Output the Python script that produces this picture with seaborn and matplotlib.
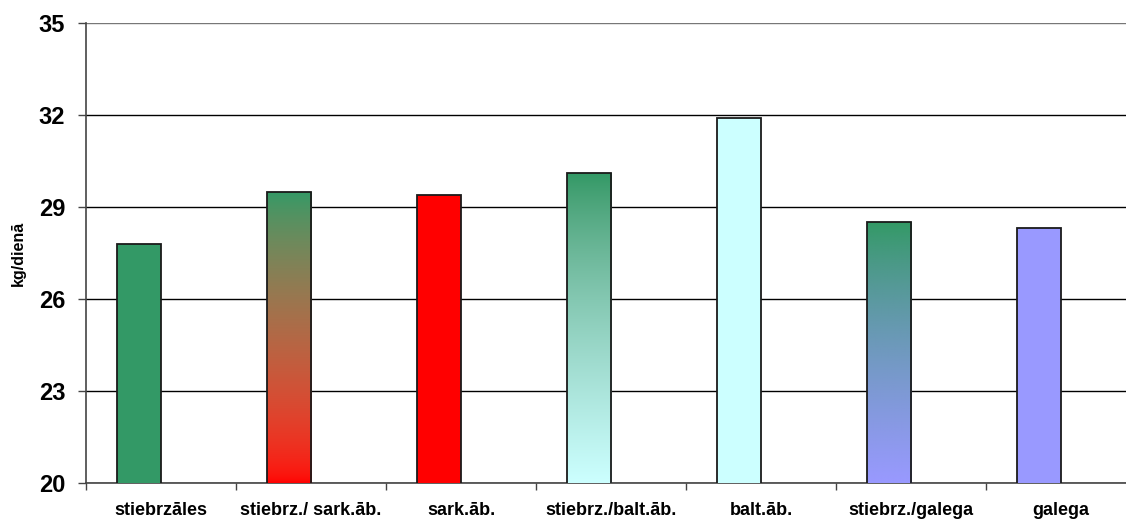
import numpy as np
import pandas as pd
import matplotlib
matplotlib.use("Agg")
import matplotlib.pyplot as plt
from matplotlib.colors import to_rgb
import seaborn as sns

# Daily yield by forage mixture
categories = ["stiebrzāles", "stiebrz./ sark.āb.", "sark.āb.", "stiebrz./balt.āb.",
              "balt.āb.", "stiebrz./galega", "galega"]
values = [27.8, 29.5, 29.4, 30.1, 31.9, 28.5, 28.3]
yticks = [20, 23, 26, 29, 32, 35]

GREEN = "#339966"
RED = "#FF0000"
CYAN = "#CCFFFF"
BLUE = "#9999FF"
# (top colour, bottom colour) for each bar; equal pair = solid fill
fills = [(GREEN, GREEN), (GREEN, RED), (RED, RED), (GREEN, CYAN),
         (CYAN, CYAN), (GREEN, BLUE), (BLUE, BLUE)]

sns.set_theme(style="white")
plt.rcParams["font.family"] = ["Liberation Sans", "DejaVu Sans"]
plt.rcParams["font.weight"] = "bold"
plt.rcParams["text.color"] = "black"
plt.rcParams["xtick.color"] = "#444444"
plt.rcParams["ytick.color"] = "#444444"
plt.rcParams["xtick.labelcolor"] = "black"
plt.rcParams["ytick.labelcolor"] = "black"
plt.rcParams["axes.labelcolor"] = "black"

df = pd.DataFrame({
    "kategorija": categories * 2,
    "vērtība": values + [np.nan] * len(values),
    "sērija": ["a"] * len(values) + ["b"] * len(values),
})

fig = plt.figure(figsize=(11.26, 5.19), dpi=100)
ax = fig.add_axes([86 / 1126, 1 - 483 / 519, 1050 / 1126, 460 / 519])

sns.barplot(data=df, x="kategorija", y="vērtība", hue="sērija", hue_order=["a", "b"],
            order=categories, dodge=True, width=0.587, palette=["#999999", "#999999"],
            edgecolor="#1a1a1a", linewidth=1.3, legend=False, ax=ax, zorder=3)

YMIN, YMAX = 20, 35
ax.set_ylim(YMIN, YMAX)
ax.set_xlim(-0.5, len(categories) - 0.5)


def blend(top, bottom, n=256, gamma=1.8):
    """Vertical two-colour ramp, mixed in gamma space for brighter mid-tones."""
    t = np.linspace(0, 1, n)[:, None]
    c0 = np.array(to_rgb(top)) ** gamma
    c1 = np.array(to_rgb(bottom)) ** gamma
    mix = (c0[None, :] * (1 - t) + c1[None, :] * t) ** (1 / gamma)
    return mix[:, None, :]


bars = [p for p in ax.patches if np.isfinite(p.get_height()) and p.get_height() > 0]
bars.sort(key=lambda p: p.get_x())
for p, (top, bottom) in zip(bars, fills):
    x0, w = p.get_x(), p.get_width()
    y_top = p.get_y() + p.get_height()
    y_bot = max(p.get_y(), YMIN)
    if top == bottom:
        p.set_facecolor(top)
        continue
    p.set_facecolor("none")
    im = ax.imshow(blend(top, bottom), extent=[x0, x0 + w, y_bot, y_top], origin="upper",
                   aspect="auto", zorder=2.9, interpolation="bilinear")
    im.set_clip_path(p)

ax.set_ylim(YMIN, YMAX)
ax.set_xlim(-0.5, len(categories) - 0.5)

# Grid and axes styling
ax.set_yticks(yticks)
ax.yaxis.grid(True, color="black", linewidth=1.0, zorder=0)
ax.get_ygridlines()[-1].set_color("#777777")
ax.set_axisbelow(True)
ax.xaxis.grid(False)
for side in ["top", "right"]:
    ax.spines[side].set_visible(False)
ax.spines["left"].set_color("#444444")
ax.spines["bottom"].set_color("#444444")
ax.spines["left"].set_linewidth(1.2)
ax.spines["bottom"].set_linewidth(1.2)

ax.set_xticks(range(len(categories)))
ax.set_xticklabels(categories, fontsize=13, fontweight="bold")
ax.set_xticks(np.arange(len(categories) + 1) - 0.5, minor=True)
ax.tick_params(axis="x", which="major", length=0, pad=14)
ax.tick_params(axis="x", which="minor", direction="out", length=5, width=1, bottom=True)
ax.tick_params(axis="y", which="major", direction="out", length=6, width=1, pad=9,
               left=True)
ax.set_yticklabels([str(v) for v in yticks], fontsize=17, fontweight="bold")

ax.set_xlabel("")
ax.set_ylabel("kg/dienā", fontsize=11.5, fontweight="bold", labelpad=9)

fig.savefig("out.png", dpi=100)
